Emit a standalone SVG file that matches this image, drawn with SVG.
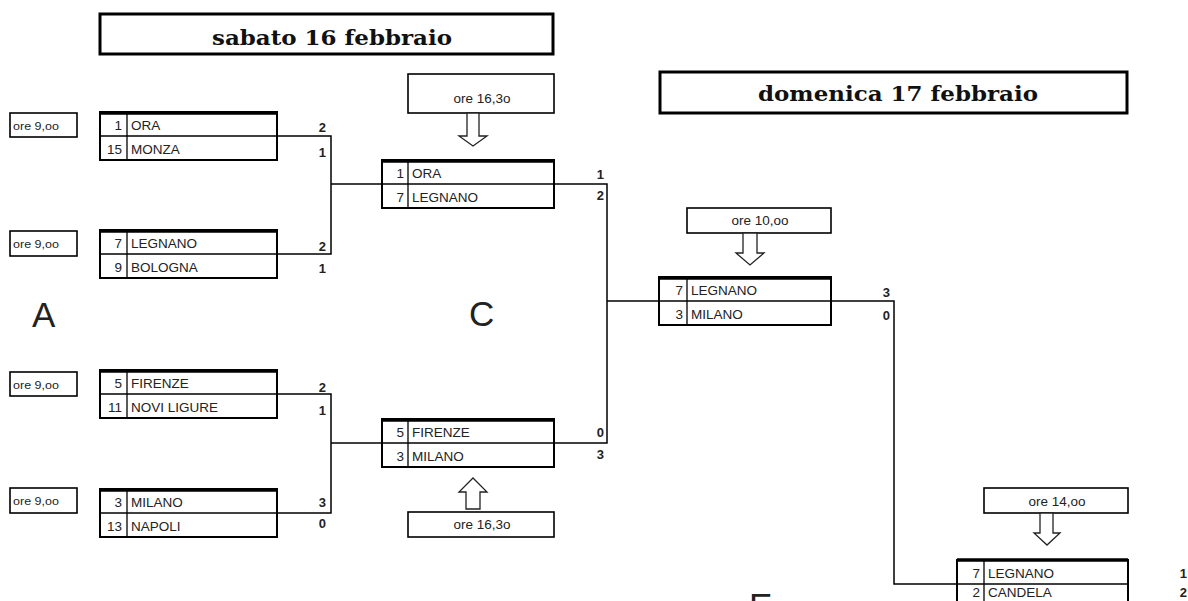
<svg xmlns="http://www.w3.org/2000/svg" width="1188" height="601" viewBox="0 0 1188 601">
<style>
.hdr{fill:#fff;stroke:#000;stroke-width:3}
.hdrt{font-family:"DejaVu Serif","Liberation Serif",serif;font-weight:bold;font-size:21px;fill:#111;text-anchor:middle}
.box{fill:#fff;stroke:#000;stroke-width:2}
.top{stroke:#000;stroke-width:3.5}
.in{stroke:#000;stroke-width:1.3}
.tm{font-family:"Liberation Sans",Arial,sans-serif;font-size:13.5px;fill:#222}
.num{font-family:"Liberation Sans",Arial,sans-serif;font-size:13.5px;fill:#222;text-anchor:end}
.sc{font-family:"Liberation Sans",Arial,sans-serif;font-size:13px;font-weight:bold;fill:#222;text-anchor:end}
.ore{fill:#fff;stroke:#000;stroke-width:1.6}
.oret{font-family:"Liberation Sans",Arial,sans-serif;font-size:11.5px;fill:#222}
.orem{font-family:"Liberation Sans",Arial,sans-serif;font-size:13.5px;fill:#222;text-anchor:middle}
.arr{fill:#fff;stroke:#222;stroke-width:1.3}
.lt{font-family:"Liberation Sans",Arial,sans-serif;font-size:35px;fill:#222}
.con{fill:none;stroke:#000;stroke-width:1.5}
</style>
<rect width="1188" height="601" fill="#fff"/>

<g id="header-sabato">
<rect class="hdr" x="100" y="14" width="453" height="40"/>
<text class="hdrt" x="332" y="45" textLength="240" lengthAdjust="spacingAndGlyphs">sabato 16 febbraio</text>
</g>
<g id="header-domenica">
<rect class="hdr" x="660" y="72" width="467" height="41"/>
<text class="hdrt" x="898" y="101" textLength="280" lengthAdjust="spacingAndGlyphs">domenica 17 febbraio</text>
</g>

<g id="connectors">
<path class="con" d="M277 136 H331 V254 H277"/>
<path class="con" d="M331 184 H382"/>
<path class="con" d="M277 394 H331 V513 H277"/>
<path class="con" d="M331 443 H382"/>
<path class="con" d="M554 184 H607 V443 H554"/>
<path class="con" d="M607 301 H659"/>
<path class="con" d="M831 301 H894 V584 H957"/>
</g>

<g id="time-a1"><rect class="ore" x="10" y="113" width="67" height="24"/><text class="oret" x="13" y="130" textLength="46" lengthAdjust="spacingAndGlyphs">ore 9,oo</text></g>
<g id="time-a2"><rect class="ore" x="10" y="231" width="67" height="25"/><text class="oret" x="13" y="248" textLength="46" lengthAdjust="spacingAndGlyphs">ore 9,oo</text></g>
<g id="time-a3"><rect class="ore" x="10" y="372" width="67" height="24"/><text class="oret" x="13" y="389" textLength="46" lengthAdjust="spacingAndGlyphs">ore 9,oo</text></g>
<g id="time-a4"><rect class="ore" x="10" y="488" width="67" height="25"/><text class="oret" x="13" y="505" textLength="46" lengthAdjust="spacingAndGlyphs">ore 9,oo</text></g>

<g id="match-1">
<rect class="box" x="100" y="112" width="177" height="48"/>
<line class="top" x1="100" y1="113" x2="277" y2="113"/>
<line class="in" x1="100" y1="136" x2="277" y2="136"/>
<line class="in" x1="127" y1="112" x2="127" y2="160"/>
<text class="num" x="122" y="130">1</text><text class="tm" x="131" y="130">ORA</text>
<text class="num" x="122" y="154">15</text><text class="tm" x="131" y="154">MONZA</text>
<text class="sc" x="326" y="132">2</text><text class="sc" x="326" y="157">1</text>
</g>
<g id="match-2">
<rect class="box" x="100" y="230" width="177" height="48"/>
<line class="top" x1="100" y1="231" x2="277" y2="231"/>
<line class="in" x1="100" y1="254" x2="277" y2="254"/>
<line class="in" x1="127" y1="230" x2="127" y2="278"/>
<text class="num" x="122" y="248">7</text><text class="tm" x="131" y="248">LEGNANO</text>
<text class="num" x="122" y="272">9</text><text class="tm" x="131" y="272">BOLOGNA</text>
<text class="sc" x="326" y="251">2</text><text class="sc" x="326" y="273">1</text>
</g>
<g id="match-3">
<rect class="box" x="100" y="370" width="177" height="48"/>
<line class="top" x1="100" y1="371" x2="277" y2="371"/>
<line class="in" x1="100" y1="394" x2="277" y2="394"/>
<line class="in" x1="127" y1="370" x2="127" y2="418"/>
<text class="num" x="122" y="388">5</text><text class="tm" x="131" y="388">FIRENZE</text>
<text class="num" x="122" y="412">11</text><text class="tm" x="131" y="412">NOVI LIGURE</text>
<text class="sc" x="326" y="392">2</text><text class="sc" x="326" y="415">1</text>
</g>
<g id="match-4">
<rect class="box" x="100" y="489" width="177" height="48"/>
<line class="top" x1="100" y1="490" x2="277" y2="490"/>
<line class="in" x1="100" y1="513" x2="277" y2="513"/>
<line class="in" x1="127" y1="489" x2="127" y2="537"/>
<text class="num" x="122" y="507">3</text><text class="tm" x="131" y="507">MILANO</text>
<text class="num" x="122" y="531">13</text><text class="tm" x="131" y="531">NAPOLI</text>
<text class="sc" x="326" y="507">3</text><text class="sc" x="326" y="528">0</text>
</g>

<g id="time-c1">
<rect class="ore" x="408" y="74" width="146" height="39"/>
<text class="orem" x="482" y="103">ore 16,3o</text>
<polygon class="arr" points="467,113 479,113 479,136 487,136 473,146 459,136 467,136"/>
</g>
<g id="match-c1">
<rect class="box" x="382" y="160" width="172" height="48"/>
<line class="top" x1="382" y1="161" x2="554" y2="161"/>
<line class="in" x1="382" y1="184" x2="554" y2="184"/>
<line class="in" x1="408" y1="160" x2="408" y2="208"/>
<text class="num" x="404" y="178">1</text><text class="tm" x="412" y="178">ORA</text>
<text class="num" x="404" y="202">7</text><text class="tm" x="412" y="202">LEGNANO</text>
<text class="sc" x="604" y="179">1</text><text class="sc" x="604" y="200">2</text>
</g>
<g id="match-c2">
<rect class="box" x="382" y="419" width="172" height="48"/>
<line class="top" x1="382" y1="420" x2="554" y2="420"/>
<line class="in" x1="382" y1="443" x2="554" y2="443"/>
<line class="in" x1="408" y1="419" x2="408" y2="467"/>
<text class="num" x="404" y="437">5</text><text class="tm" x="412" y="437">FIRENZE</text>
<text class="num" x="404" y="461">3</text><text class="tm" x="412" y="461">MILANO</text>
<text class="sc" x="604" y="437">0</text><text class="sc" x="604" y="459">3</text>
</g>
<g id="time-c2">
<polygon class="arr" points="466,509 480,509 480,492 487,492 473,478 459,492 466,492"/>
<rect class="ore" x="408" y="512" width="146" height="25"/>
<text class="orem" x="482" y="529">ore 16,3o</text>
</g>

<g id="time-d">
<rect class="ore" x="687" y="208" width="144" height="25"/>
<text class="orem" x="760" y="225">ore 10,oo</text>
<polygon class="arr" points="743,233 757,233 757,253 764,253 750,265 736,253 743,253"/>
</g>
<g id="match-d">
<rect class="box" x="659" y="277" width="172" height="48"/>
<line class="top" x1="659" y1="278" x2="831" y2="278"/>
<line class="in" x1="659" y1="301" x2="831" y2="301"/>
<line class="in" x1="687" y1="277" x2="687" y2="325"/>
<text class="num" x="683" y="295">7</text><text class="tm" x="691" y="295">LEGNANO</text>
<text class="num" x="683" y="319">3</text><text class="tm" x="691" y="319">MILANO</text>
<text class="sc" x="890" y="297">3</text><text class="sc" x="890" y="320">0</text>
</g>

<g id="time-f">
<rect class="ore" x="984" y="488" width="144" height="25"/>
<text class="orem" x="1057" y="506">ore 14,oo</text>
<polygon class="arr" points="1040,513 1053,513 1053,533 1060,533 1047,545 1034,533 1040,533"/>
</g>
<g id="match-f">
<rect class="box" x="957" y="560" width="171" height="48"/>
<line class="top" x1="957" y1="560" x2="1128" y2="560"/>
<line class="in" x1="957" y1="584" x2="1128" y2="584"/>
<line class="in" x1="984" y1="560" x2="984" y2="608"/>
<text class="num" x="980" y="578">7</text><text class="tm" x="988" y="578">LEGNANO</text>
<text class="num" x="980" y="597">2</text><text class="tm" x="988" y="597">CANDELA</text>
<text class="sc" x="1187" y="578">1</text><text class="sc" x="1187" y="597">2</text>
</g>

<g id="labels">
<text class="lt" x="32" y="327">A</text>
<text class="lt" x="469" y="326">C</text>
<text class="lt" x="749" y="618">E</text>
</g>
</svg>
